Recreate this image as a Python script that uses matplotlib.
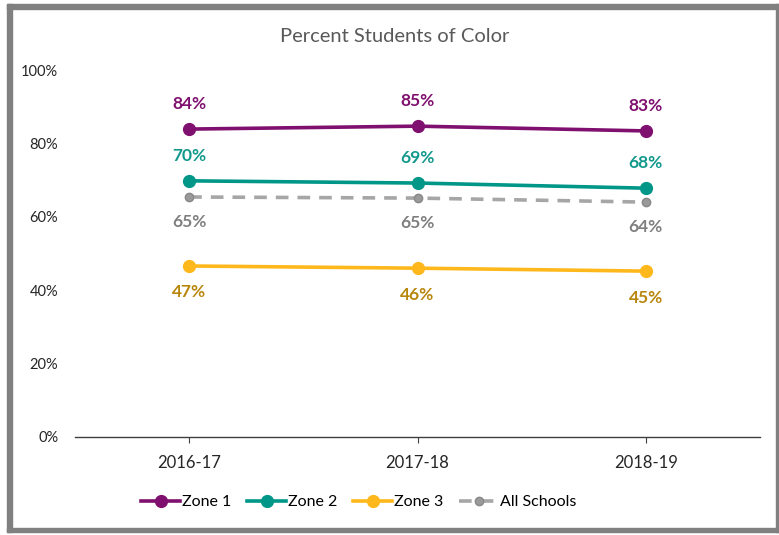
import matplotlib.pyplot as plt
from matplotlib.patches import Rectangle
from matplotlib.ticker import FuncFormatter

years = ["2016-17", "2017-18", "2018-19"]
zone1 = [83.9, 84.7, 83.4]
zone2 = [69.8, 69.2, 67.8]
zone3 = [46.6, 46.0, 45.2]
all_schools = [65.4, 65.1, 64.0]

labels_z1 = ["84%", "85%", "83%"]
labels_z2 = ["70%", "69%", "68%"]
labels_z3 = ["47%", "46%", "45%"]
labels_all = ["65%", "65%", "64%"]

plt.rcParams['font.family'] = ['Lato', 'DejaVu Sans']

W, H = 779, 535
fig = plt.figure(figsize=(W / 100, H / 100), dpi=100)

# grey frame round the chart area
def px_rect(x0, y0, x1, y1):
    fig.patches.append(Rectangle((x0 / W, 1 - y1 / H), (x1 - x0) / W, (y1 - y0) / H,
                                 transform=fig.transFigure, color='#808080', zorder=0))

px_rect(7, 4, 779, 9)
px_rect(7, 4, 12, 532)
px_rect(776, 4, 779, 532)
px_rect(7, 528, 779, 532)

ax = fig.add_axes([75 / W, (H - 437) / H, (760 - 75) / W, (437 - 70) / H])

x = range(len(years))
series = [
    ("Zone 1", zone1, labels_z1, '#80106F', '#80106F', 18),
    ("Zone 2", zone2, labels_z2, '#009688', '#12998C', 18),
    ("Zone 3", zone3, labels_z3, '#FFB81C', '#B8860B', -19),
]
for name, vals, labs, col, lcol, off in series:
    ax.plot(x, vals, color=col, lw=2.6, marker='o', ms=8.5, label=name, zorder=3)
    for xi, v, t in zip(x, vals, labs):
        ax.annotate(t, (xi, v), xytext=(0, off), textcoords='offset points',
                    ha='center', va='center', color=lcol, fontsize=12.5, fontweight='bold')

ax.plot(x, all_schools, color='#A6A6A6', lw=2.6, ls=(0, (3.5, 2.5)), marker='o', ms=6,
        mfc='#9A9A9A', mec='#888888', label="All Schools", zorder=2)
for xi, v, t in zip(x, all_schools, labels_all):
    ax.annotate(t, (xi, v), xytext=(0, -18), textcoords='offset points',
                ha='center', va='center', color='#7F7F7F', fontsize=12.5, fontweight='bold')

ax.set_xlim(-0.5, 2.5)
ax.set_ylim(0, 100)
ax.set_yticks(range(0, 101, 20))
ax.yaxis.set_major_formatter(FuncFormatter(lambda v, p: f"{int(v)}%"))
ax.set_xticks(list(x))
ax.set_xticklabels(years)
for s in ['left', 'right', 'top']:
    ax.spines[s].set_visible(False)
ax.spines['bottom'].set_color('#404040')
ax.spines['bottom'].set_linewidth(1)
ax.tick_params(axis='y', length=0, pad=12, labelsize=10.5, labelcolor='#262626')
ax.tick_params(axis='x', length=4, color='#404040', pad=9, labelsize=12, labelcolor='#262626')

fig.text(395 / W, 1 - 36 / H, "Percent Students of Color", ha='center', va='center',
         fontsize=14.5, color='#595959')

fig.legend(loc='center', bbox_to_anchor=(359 / W, 1 - 502 / H), ncol=4, frameon=False,
           fontsize=11.5, handlelength=2.4, handletextpad=0.15, columnspacing=1.0)

fig.savefig("out.png", dpi=100)
